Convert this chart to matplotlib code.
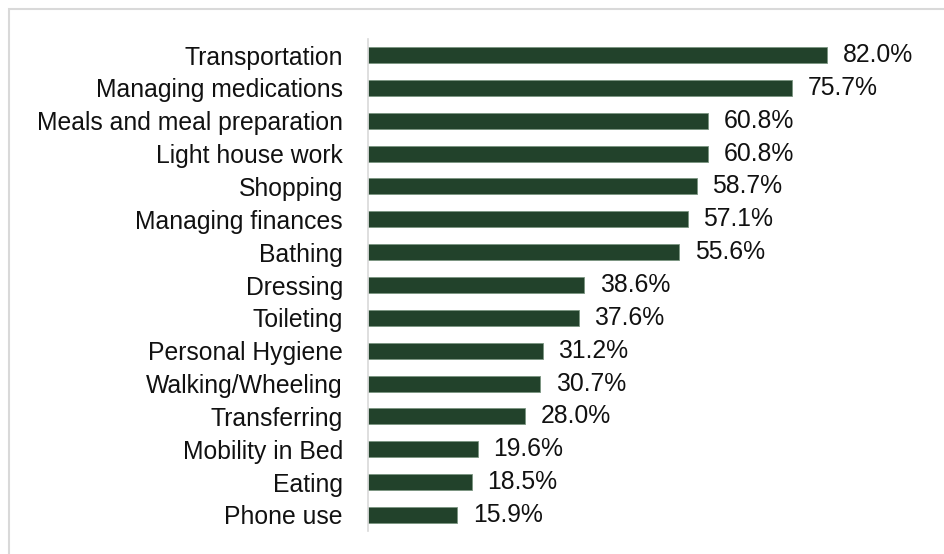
import matplotlib.pyplot as plt
from matplotlib.patches import Rectangle

tasks = ['Transportation', 'Managing medications', 'Meals and meal preparation',
         'Light house work', 'Shopping', 'Managing finances', 'Bathing', 'Dressing',
         'Toileting', 'Personal Hygiene', 'Walking/Wheeling', 'Transferring',
         'Mobility in Bed', 'Eating', 'Phone use']
percent = [82.0, 75.7, 60.8, 60.8, 58.7, 57.1, 55.6, 38.6, 37.6, 31.2, 30.7, 28.0,
           19.6, 18.5, 15.9]

plt.rcParams['font.family'] = ['Liberation Sans', 'DejaVu Sans']
FS = 17.8

fig = plt.figure(figsize=(9.44, 5.54), dpi=100)
ax = fig.add_axes([368 / 944, 22.6 / 554, 560 / 944, 492.8 / 554])

ypos = range(len(tasks))
ax.barh(ypos, percent, height=0.49, color='#22422b', edgecolor='#7a9580', linewidth=0.6)
for y, v in zip(ypos, percent):
    ax.text(v + 2.8, y, f'{v:.1f}%', va='center', ha='left', fontsize=FS, color='#111111')

ax.set_yticks(list(ypos))
ax.set_yticklabels(tasks, fontsize=FS, color='#111111')
ax.set_xlim(0, 100)
ax.set_ylim(len(tasks) - 0.5, -0.5)
ax.set_xticks([])
ax.tick_params(axis='y', length=0, pad=18)
for side in ['top', 'right', 'bottom']:
    ax.spines[side].set_visible(False)
ax.spines['left'].set_color('#d9d9d9')
ax.spines['left'].set_linewidth(1.2)

# light frame around the whole figure
fig.patches.append(Rectangle((9 / 944, -0.1), 1.0, (554 - 9.5) / 554 + 0.1,
                             transform=fig.transFigure, fill=False,
                             edgecolor='#d9d9d9', linewidth=1.5))

fig.savefig('out.png', dpi=100)
